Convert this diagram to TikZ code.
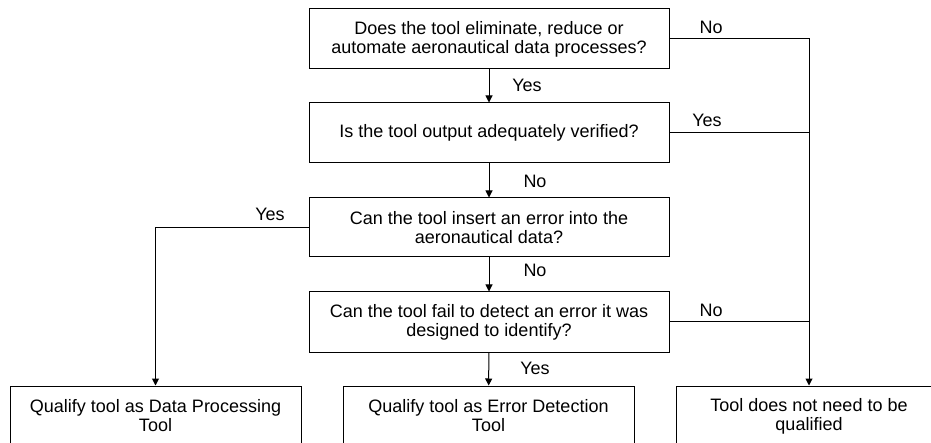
\documentclass[tikz,border=0pt]{standalone}
\usepackage{fontspec}
\setmainfont{Liberation Sans}
\usetikzlibrary{arrows.meta}

\begin{document}
\begin{tikzpicture}[x=1pt, y=-1pt, line width=1pt,
  box/.style={draw, minimum width=360pt, minimum height=60pt, inner sep=0pt,
    align=center, font=\fontsize{18}{19}\selectfont},
  endbox/.style={box, minimum width=291pt},
  lbl/.style={font=\fontsize{18}{19}\selectfont},
  >={Triangle[length=7pt, width=7pt]}]

  \clip (0,0) rectangle (931,443);

  % questions
  \node[box] (elim) at (489,39) {Does the tool eliminate, reduce or\\automate aeronautical data processes?};
  \node[box] (verif) at (489,133) {Is the tool output adequately verified?};
  \node[box, minimum height=59pt] (insert) at (489,227.5) {Can the tool insert an error into the\\aeronautical data?};
  \node[box] (detect) at (489,322) {Can the tool fail to detect an error it was\\designed to identify?};

  % outcomes
  \node[endbox] (dataproc) at (155.5,416) {Qualify tool as Data Processing\\Tool};
  \node[endbox] (errdet) at (488.5,416) {Qualify tool as Error Detection\\Tool};
  \node[endbox, minimum width=266pt] (noqual) at (809,416) {Tool does not need to be\\qualified};

  \coordinate (rail) at (809,39);

  \draw[->] (elim) -- (verif);
  \draw[->] (verif) -- (insert);
  \draw[->] (insert) -- (detect);
  \draw[->] (detect) -- (errdet);
  \draw[->] (insert.west) -| (dataproc.north);
  \draw[->] (elim.east) -- (rail) -- (noqual.north);
  \draw (verif.east) -- (verif.east -| rail);
  \draw (detect.east) -- (detect.east -| rail);

  % labels
  \node[lbl] (l1) at (527,85) {Yes};
  \node[lbl] (l2) at (535,181) {No};
  \node[lbl] (l3) at (535,270) {No};
  \node[lbl] (l4) at (535,368) {Yes};
  \node[lbl] (l5) at (711,27) {No};
  \node[lbl] (l6) at (707,120) {Yes};
  \node[lbl] (l7) at (711,310) {No};
  \node[lbl] (l8) at (270,214) {Yes};

\end{tikzpicture}
\end{document}
